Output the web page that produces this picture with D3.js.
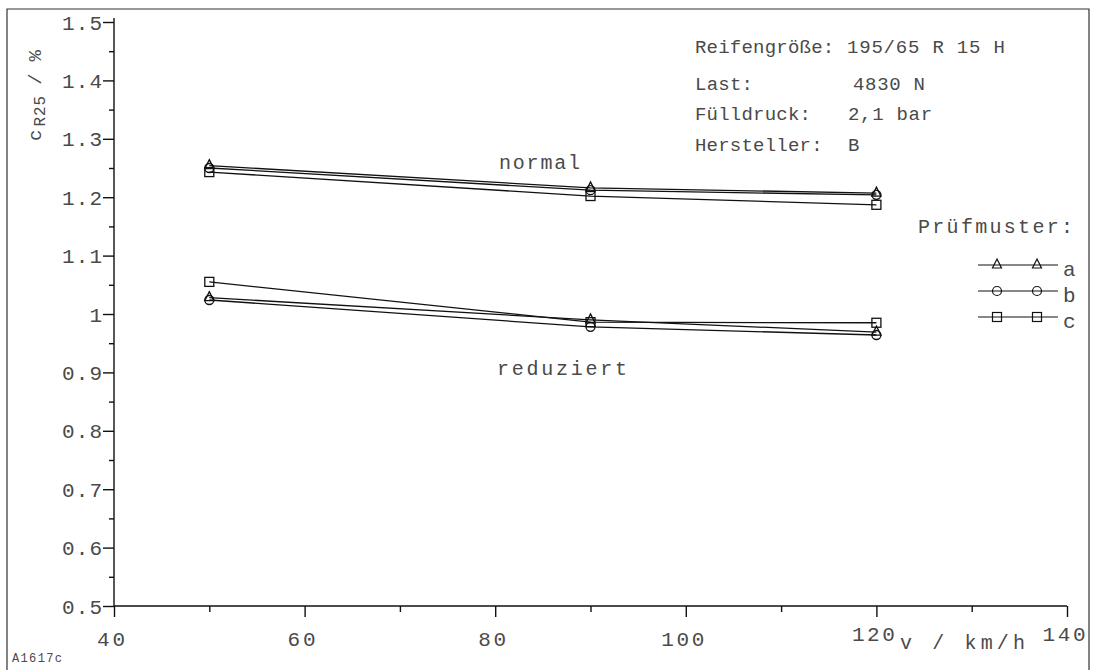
<!DOCTYPE html>
<html><head><meta charset="utf-8">
<script src="https://cdn.jsdelivr.net/npm/d3@7"></script>
<style>
body{margin:0;background:#fff;}
svg text{font-family:"Liberation Mono","DejaVu Sans Mono",monospace;fill:#4a4a4a;}
</style></head>
<body><svg id="c" width="1094" height="670"></svg>
<script>
// ---- data ----
const speeds = [50, 90, 120];
const seriesNames = ["a", "b", "c"];
const markerTypes = ["triangle", "circle", "square"];
const normalA = [1.254, 1.216, 1.207];
const normalB = [1.250, 1.212, 1.204];
const normalC = [1.243, 1.202, 1.187];
const reducedA = [1.028, 0.990, 0.969];
const reducedB = [1.024, 0.978, 0.964];
const reducedC = [1.055, 0.986, 0.985];
const xTicks = [40, 60, 80, 100, 120, 140];
const yTicks = [0.5, 0.6, 0.7, 0.8, 0.9, 1.0, 1.1, 1.2, 1.3, 1.4, 1.5];
const yTickLabels = ["0.5","0.6","0.7","0.8","0.9","1","1.1","1.2","1.3","1.4","1.5"];
const infoLabels = ["Reifengröße:", "Last:", "Fülldruck:", "Hersteller:"];
const infoValues = ["195/65 R 15 H", "4830 N", "2,1 bar", "B"];

const svg = d3.select("#c");
const x = d3.scaleLinear().domain([40, 140]).range([114, 1067]);
const y = d3.scaleLinear().domain([0.5, 1.5]).range([606, 22]);

// frame
svg.append("path").attr("d","M7,672 L7,9 L1089,9 L1089,672")
  .attr("fill","none").attr("stroke","#333").attr("stroke-width",1.2);

// y axis
const yAxis = d3.axisLeft(y).tickValues(yTicks).tickSize(11).tickFormat("");
const gy = svg.append("g").attr("transform",`translate(${x(40)},0)`).call(yAxis);
const yMinor = d3.axisLeft(y).tickValues(d3.range(0.55,1.5,0.1)).tickSize(5).tickFormat("");
const gy2 = svg.append("g").attr("transform",`translate(${x(40)},0)`).call(yMinor);
[gy,gy2].forEach(g=>{g.selectAll("path,line").attr("stroke","#111").attr("stroke-width",1.4);});
gy2.select("path").remove();
gy.select("path").attr("d",`M0,${y(0.5)}V${y(1.5)-4}`);

// x axis
const xAxis = d3.axisBottom(x).tickValues(xTicks).tickSize(11).tickFormat("");
const gx = svg.append("g").attr("transform",`translate(0,${y(0.5)})`).call(xAxis);
const xMinor = d3.axisBottom(x).tickValues(d3.range(50,140,20)).tickSize(6).tickFormat("");
const gx2 = svg.append("g").attr("transform",`translate(0,${y(0.5)})`).call(xMinor);
[gx,gx2].forEach(g=>{g.selectAll("path,line").attr("stroke","#111").attr("stroke-width",1.4);});
gx2.select("path").remove();
gx.select("path").attr("d",`M${x(40)},0H${x(140)}`);

// y tick labels
svg.selectAll(".yl").data(yTicks).enter().append("text")
  .attr("x", 102).attr("y", d=>y(d)).attr("dy","0.36em")
  .attr("text-anchor","end").attr("font-size",21)
  .each(function(d,i){
    const s = yTickLabels[i];
    d3.select(this).text(s);
    if (s.length>1) d3.select(this).attr("textLength", 40).attr("lengthAdjust","spacing");
  });

// x tick labels
svg.selectAll(".xl").data(xTicks).enter().append("text")
  .attr("x", d=>x(d)-3).attr("y", d=> d>=120 ? 633 : 638).attr("dy","0.36em")
  .attr("text-anchor","middle").attr("font-size",21)
  .attr("textLength", d=>String(d).length===2?28:43).attr("lengthAdjust","spacing")
  .text(d=>d);

// x axis title
svg.append("text").attr("x",900).attr("y",642).attr("dy","0.36em").attr("font-size",20)
  .attr("textLength",125).attr("lengthAdjust","spacing").text("v / km/h");

// y axis title
const yt = svg.append("text").attr("transform","translate(34,141) rotate(-90)")
  .attr("font-size",19).attr("dy","0.36em");
yt.append("tspan").text("c");
yt.append("tspan").attr("font-size",16).attr("dy","4").attr("dx","3").attr("letter-spacing","1").text("R25");
yt.append("tspan").attr("dy","-4").attr("dx","10").text("/");
yt.append("tspan").attr("dx","12").text("%");

// info block
const infoY = [46, 83, 113, 144];
infoLabels.forEach((t,i)=>{
  svg.append("text").attr("x",695).attr("y",infoY[i]).attr("dy","0.36em").attr("font-size",19)
    .attr("textLength", t.length*11.6).attr("lengthAdjust","spacing").text(t);
  const v = infoValues[i];
  const vt = svg.append("text").attr("x", i===0?847:(i===1?853:848)).attr("y",infoY[i]).attr("dy","0.36em").attr("font-size",19).text(v);
  if (v.length>1) vt.attr("textLength", v.length*12.3-2).attr("lengthAdjust","spacing");
});

// curve labels
svg.append("text").attr("x",499).attr("y",162).attr("dy","0.36em").attr("font-size",20)
  .attr("textLength",81).attr("lengthAdjust","spacing").text("normal");
svg.append("text").attr("x",497).attr("y",368).attr("dy","0.36em").attr("font-size",20)
  .attr("textLength",130).attr("lengthAdjust","spacing").text("reduziert");

// marker drawing
function marker(g, type, cx, cy){
  if (type==="triangle"){
    g.append("path").attr("d",`M${cx},${cy-6}L${cx+4.5},${cy+3}L${cx-4.5},${cy+3}Z`);
  } else if (type==="circle"){
    g.append("circle").attr("cx",cx).attr("cy",cy).attr("r",4.5);
  } else {
    g.append("rect").attr("x",cx-4.5).attr("y",cy-4.5).attr("width",9).attr("height",9);
  }
}

const groups = [
  [normalA, normalB, normalC],
  [reducedA, reducedB, reducedC]
];
const line = d3.line().x((d,i)=>x(speeds[i])).y(d=>y(d));
const plot = svg.append("g").attr("fill","none").attr("stroke","#111").attr("stroke-width",1.3);
groups.forEach(grp=>{
  grp.forEach((vals, si)=>{
    plot.append("path").attr("d", line(vals));
    vals.forEach((v,i)=> marker(plot, markerTypes[si], x(speeds[i]), y(v)));
  });
});

// legend
svg.append("text").attr("x",918).attr("y",226).attr("dy","0.36em").attr("font-size",20)
  .attr("textLength",155).attr("lengthAdjust","spacing").text("Prüfmuster:");
const legY = [265, 291, 317];
const leg = svg.append("g").attr("fill","none").attr("stroke","#111").attr("stroke-width",1.2);
seriesNames.forEach((n,i)=>{
  leg.append("line").attr("x1",978).attr("x2",1058).attr("y1",legY[i]).attr("y2",legY[i]);
  marker(leg, markerTypes[i], 997, legY[i]);
  marker(leg, markerTypes[i], 1037, legY[i]);
  svg.append("text").attr("x",1063).attr("y",legY[i]+3).attr("dy","0.36em").attr("font-size",21).text(n);
});

// figure id
svg.append("text").attr("x",12).attr("y",658).attr("dy","0.36em").attr("font-size",12)
  .attr("textLength",50).attr("lengthAdjust","spacing").text("A1617c");
</script></body></html>
